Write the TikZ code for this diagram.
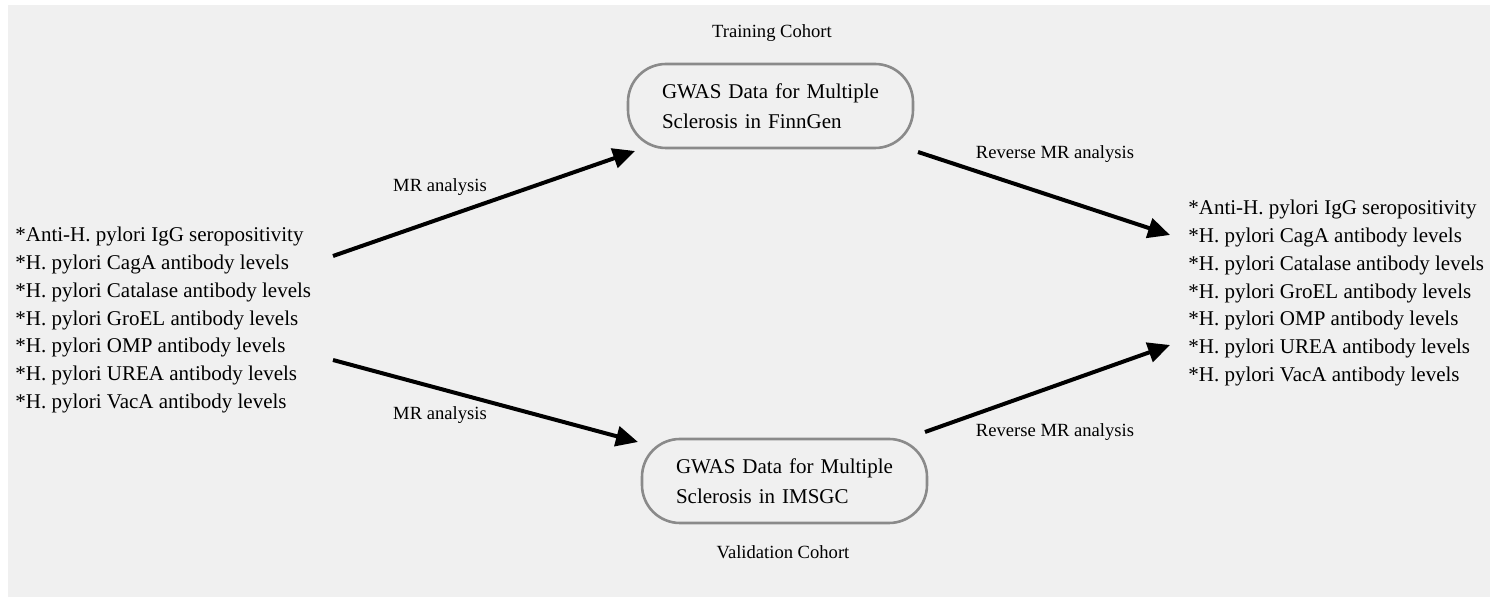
\documentclass[tikz,border=0pt]{standalone}
\usepackage{fontspec}
\setmainfont{Liberation Serif}
\usetikzlibrary{arrows.meta}
\definecolor{paper}{HTML}{F0F0F0}
\definecolor{boxgray}{HTML}{8A8A8A}
\begin{document}
\begin{tikzpicture}[x=0.5pt,y=-0.5pt,
  cohortbox/.style={draw=boxgray, line width=1.3pt, rounded corners=19pt,
    minimum height=42pt, text width=108.5pt, inner xsep=17pt, align=left,
    font=\fontsize{10.5}{15}\selectfont},
  listtext/.style={align=left, inner sep=0pt, anchor=west,
    font=\fontsize{10.5}{13.9}\selectfont},
  lbl/.style={inner sep=0pt, font=\fontsize{9.3}{11}\selectfont},
  flow/.style={line width=2pt, -{Triangle[length=11pt,width=10pt]}}]
\useasboundingbox (0,0) rectangle (1501,597);
\fill[white] (0,0) rectangle (1501,597);
\fill[paper] (8,5) rectangle (1490,597);

\node[cohortbox] (fin) at (770.5,106) {GWAS Data for Multiple\\Sclerosis in FinnGen};
\node[cohortbox] (ims) at (784.5,481) {GWAS Data for Multiple\\Sclerosis in IMSGC};
\node[lbl] (train) at (772,33) {Training Cohort};
\node[lbl] (valid) at (783,552) {Validation Cohort};

\node[listtext] (left) at (15,320) {*Anti-H. pylori IgG seropositivity\\*H. pylori CagA antibody levels\\*H. pylori Catalase antibody levels\\*H. pylori GroEL antibody levels\\*H. pylori OMP antibody levels\\*H. pylori UREA antibody levels\\*H. pylori VacA antibody levels};
\node[listtext] (right) at (1188,293) {*Anti-H. pylori IgG seropositivity\\*H. pylori CagA antibody levels\\*H. pylori Catalase antibody levels\\*H. pylori GroEL antibody levels\\*H. pylori OMP antibody levels\\*H. pylori UREA antibody levels\\*H. pylori VacA antibody levels};

\coordinate (a1s) at (333,256);
\coordinate (a1e) at (635,151);
\coordinate (a2s) at (333,360);
\coordinate (a2e) at (638,442);
\coordinate (a3s) at (918,152);
\coordinate (a3e) at (1170,235);
\coordinate (a4s) at (925,432);
\coordinate (a4e) at (1170,345);

\draw[flow] (a1s) -- (a1e);
\draw[flow] (a2s) -- (a2e);
\draw[flow] (a3s) -- (a3e);
\draw[flow] (a4s) -- (a4e);

\node[lbl] (mr1) at (440,187) {MR analysis};
\node[lbl] (mr2) at (440,415) {MR analysis};
\node[lbl] (rmr1) at (1055,154) {Reverse MR analysis};
\node[lbl] (rmr2) at (1055,432) {Reverse MR analysis};
\end{tikzpicture}
\end{document}
